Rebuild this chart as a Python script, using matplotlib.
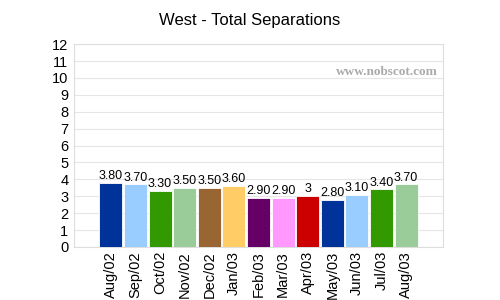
import matplotlib
matplotlib.use("Agg")
import matplotlib.pyplot as plt

months = ["Aug/02", "Sep/02", "Oct/02", "Nov/02", "Dec/02", "Jan/03", "Feb/03",
          "Mar/03", "Apr/03", "May/03", "Jun/03", "Jul/03", "Aug/03"]
values = [3.8, 3.7, 3.3, 3.5, 3.5, 3.6, 2.9, 2.9, 3.0, 2.8, 3.1, 3.4, 3.7]
labels = ["3.80", "3.70", "3.30", "3.50", "3.50", "3.60", "2.90", "2.90", "3",
          "2.80", "3.10", "3.40", "3.70"]
palette = ["#003399", "#99ccff", "#339900", "#99cc99", "#996633", "#ffcc66",
           "#660066", "#ff99ff", "#cc0000"]

plt.rcParams["font.family"] = ["Liberation Sans", "DejaVu Sans"]

fig = plt.figure(figsize=(5, 3), dpi=100)
ax = fig.add_axes([0.148, 0.177, 0.738, 0.676])

colors = [palette[i % len(palette)] for i in range(len(values))]
x = range(len(values))
ax.bar(x, values, width=0.94, color=colors, edgecolor="white", linewidth=0.6, zorder=3)

for xi, v, lab in zip(x, values, labels):
    ax.text(xi, v + 0.05, lab, ha="center", va="bottom", fontsize=9, zorder=4)

ax.set_xlim(-1.5, 13.5)
ax.set_ylim(0, 12)
ax.set_yticks(range(0, 13))
ax.set_xticks(list(x))
ax.set_xticklabels(months, rotation=90, fontsize=10.5)
ax.tick_params(axis="y", labelsize=10.5, length=0, pad=4)
ax.tick_params(axis="x", length=0, pad=3)

ax.grid(axis="y", color="#e6e6e6", linewidth=0.8, zorder=0)
for s in ax.spines.values():
    s.set_color("#dddddd")
    s.set_linewidth(0.8)

ax.text(0.985, 0.86, "www.nobscot.com", transform=ax.transAxes, ha="right",
        va="center", fontsize=9.5, fontweight="bold", color="#aaaaaa",
        family="Liberation Serif", zorder=5)

fig.suptitle("West - Total Separations", fontsize=12, y=0.955)

fig.savefig("out.png", dpi=100)
